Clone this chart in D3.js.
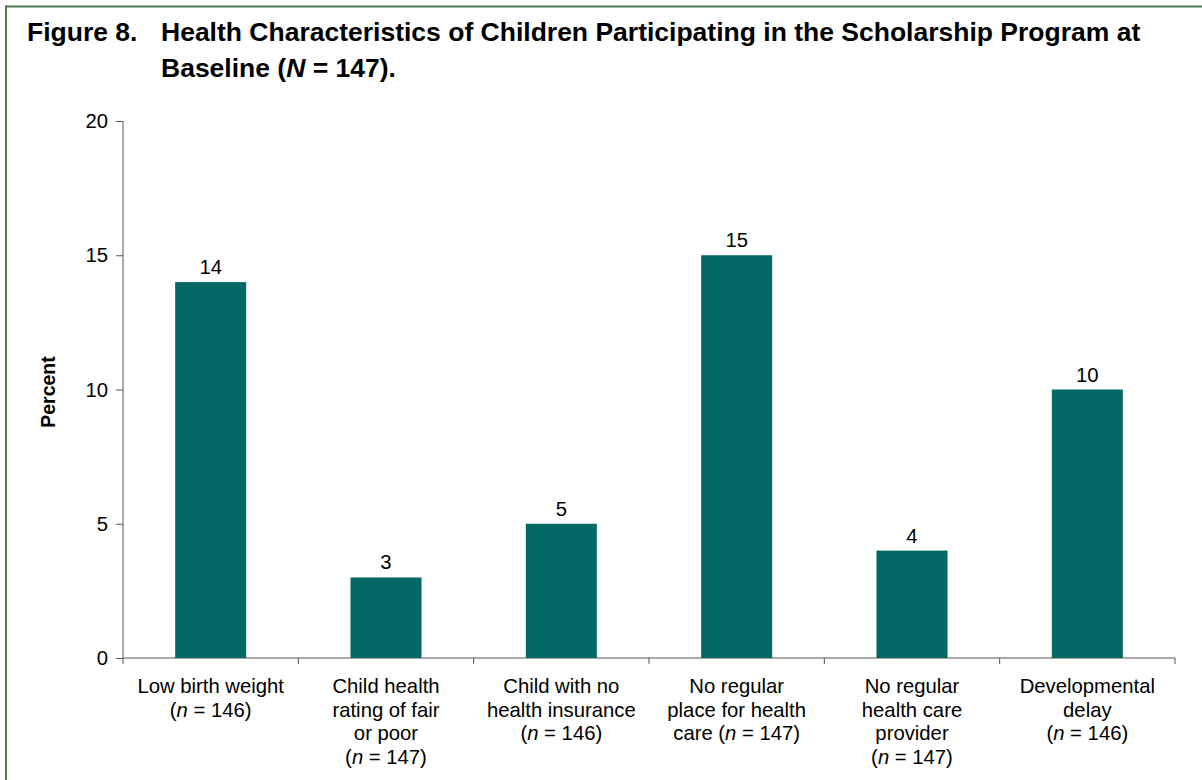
<!DOCTYPE html>
<html>
<head>
<meta charset="utf-8">
<script src="https://cdn.jsdelivr.net/npm/d3@7"></script>
<style>
  html, body { margin: 0; padding: 0; background: #ffffff; }
  svg { display: block; font-family: "Liberation Sans", Arial, sans-serif; }
</style>
</head>
<body>
<svg id="chart" width="1202" height="780"></svg>
<script>
// Baseline health characteristics (percent of children)
const categories = [
  ["Low birth weight", "(n = 146)"],
  ["Child health", "rating of fair", "or poor", "(n = 147)"],
  ["Child with no", "health insurance", "(n = 146)"],
  ["No regular", "place for health", "care (n = 147)"],
  ["No regular", "health care", "provider", "(n = 147)"],
  ["Developmental", "delay", "(n = 146)"]
];
const percents = [14, 3, 5, 15, 4, 10];
const yTicks = [0, 5, 10, 15, 20];

const svg = d3.select("#chart");
const barColor = "#026964";
const axisColor = "#555555";
const labelSize = 20.3;

// Frame (top and left rules)
svg.append("line").attr("x1", 5).attr("x2", 1202).attr("y1", 6.5).attr("y2", 6.5)
  .attr("stroke", "#4e7a4e").attr("stroke-width", 2);
svg.append("line").attr("x1", 6).attr("x2", 6).attr("y1", 5.5).attr("y2", 780)
  .attr("stroke", "#4e7a4e").attr("stroke-width", 2);

// Title
const title = svg.append("g").attr("font-weight", "bold").attr("font-size", 26.5).attr("fill", "#000");
title.append("text").attr("x", 27).attr("y", 41).text("Figure 8.");
title.append("text").attr("x", 161).attr("y", 41)
  .text("Health Characteristics of Children Participating in the Scholarship Program at");
const t2 = title.append("text").attr("x", 161).attr("y", 76.5);
t2.append("tspan").text("Baseline (");
t2.append("tspan").attr("font-style", "italic").text("N");
t2.append("tspan").text(" = 147).");

// Plot area
const plotLeft = 123, plotRight = 1175, plotTop = 121, plotBottom = 658;

const x = d3.scaleBand().domain(d3.range(categories.length)).range([plotLeft, plotRight]);
const y = d3.scaleLinear().domain([0, 20]).range([plotBottom, plotTop]);
const barW = x.bandwidth() * 0.405;

// Y axis
const yAxis = svg.append("g").attr("transform", `translate(${plotLeft},0)`)
  .call(d3.axisLeft(y).tickValues(yTicks).tickSize(7).tickPadding(8));
yAxis.select(".domain").remove();
yAxis.append("line").attr("x1", 0).attr("x2", 0).attr("y1", plotTop).attr("y2", plotBottom + 6)
  .attr("stroke", axisColor);
yAxis.selectAll(".tick line").attr("stroke", axisColor);
yAxis.selectAll(".tick text").attr("font-size", labelSize).attr("fill", "#000")
  .attr("font-family", "Liberation Sans, Arial, sans-serif");

// X axis
const xAxis = svg.append("g").attr("transform", `translate(0,${plotBottom})`);
xAxis.append("line").attr("x1", plotLeft).attr("x2", plotRight).attr("y1", 0).attr("y2", 0).attr("stroke", axisColor);
xAxis.selectAll("line.tk").data(d3.range(1, categories.length + 1)).join("line")
  .attr("class", "tk")
  .attr("x1", i => plotLeft + i * x.step()).attr("x2", i => plotLeft + i * x.step())
  .attr("y1", 0).attr("y2", 6).attr("stroke", axisColor);

// Category labels (multi-line, italic n)
categories.forEach((lines, i) => {
  const cx = x(i) + x.bandwidth() / 2;
  const t = svg.append("text").attr("text-anchor", "middle").attr("font-size", labelSize).attr("fill", "#000")
    .attr("x", cx).attr("y", 693);
  lines.forEach((ln, j) => {
    const ts = t.append("tspan").attr("x", cx).attr("dy", j === 0 ? 0 : 23.7);
    const m = ln.indexOf("(n");
    if (m >= 0) {
      ts.append("tspan").text(ln.slice(0, m + 1));
      ts.append("tspan").attr("font-style", "italic").text("n");
      ts.append("tspan").text(ln.slice(m + 2));
    } else {
      ts.text(ln);
    }
  });
});

// Bars
svg.append("g").selectAll("rect").data(percents).join("rect")
  .attr("x", (d, i) => x(i) + (x.bandwidth() - barW) / 2)
  .attr("y", d => y(d))
  .attr("width", barW)
  .attr("height", d => y(0) - y(d))
  .attr("fill", barColor);

// Value labels
svg.append("g").selectAll("text").data(percents).join("text")
  .attr("x", (d, i) => x(i) + x.bandwidth() / 2)
  .attr("y", d => y(d) - 8)
  .attr("text-anchor", "middle").attr("font-size", labelSize).attr("fill", "#000")
  .text(d => d);

// Y axis title
svg.append("text")
  .attr("transform", "translate(55,392) rotate(-90)")
  .attr("text-anchor", "middle").attr("font-size", 19.5).attr("font-weight", "bold")
  .text("Percent");
</script>
</body>
</html>
